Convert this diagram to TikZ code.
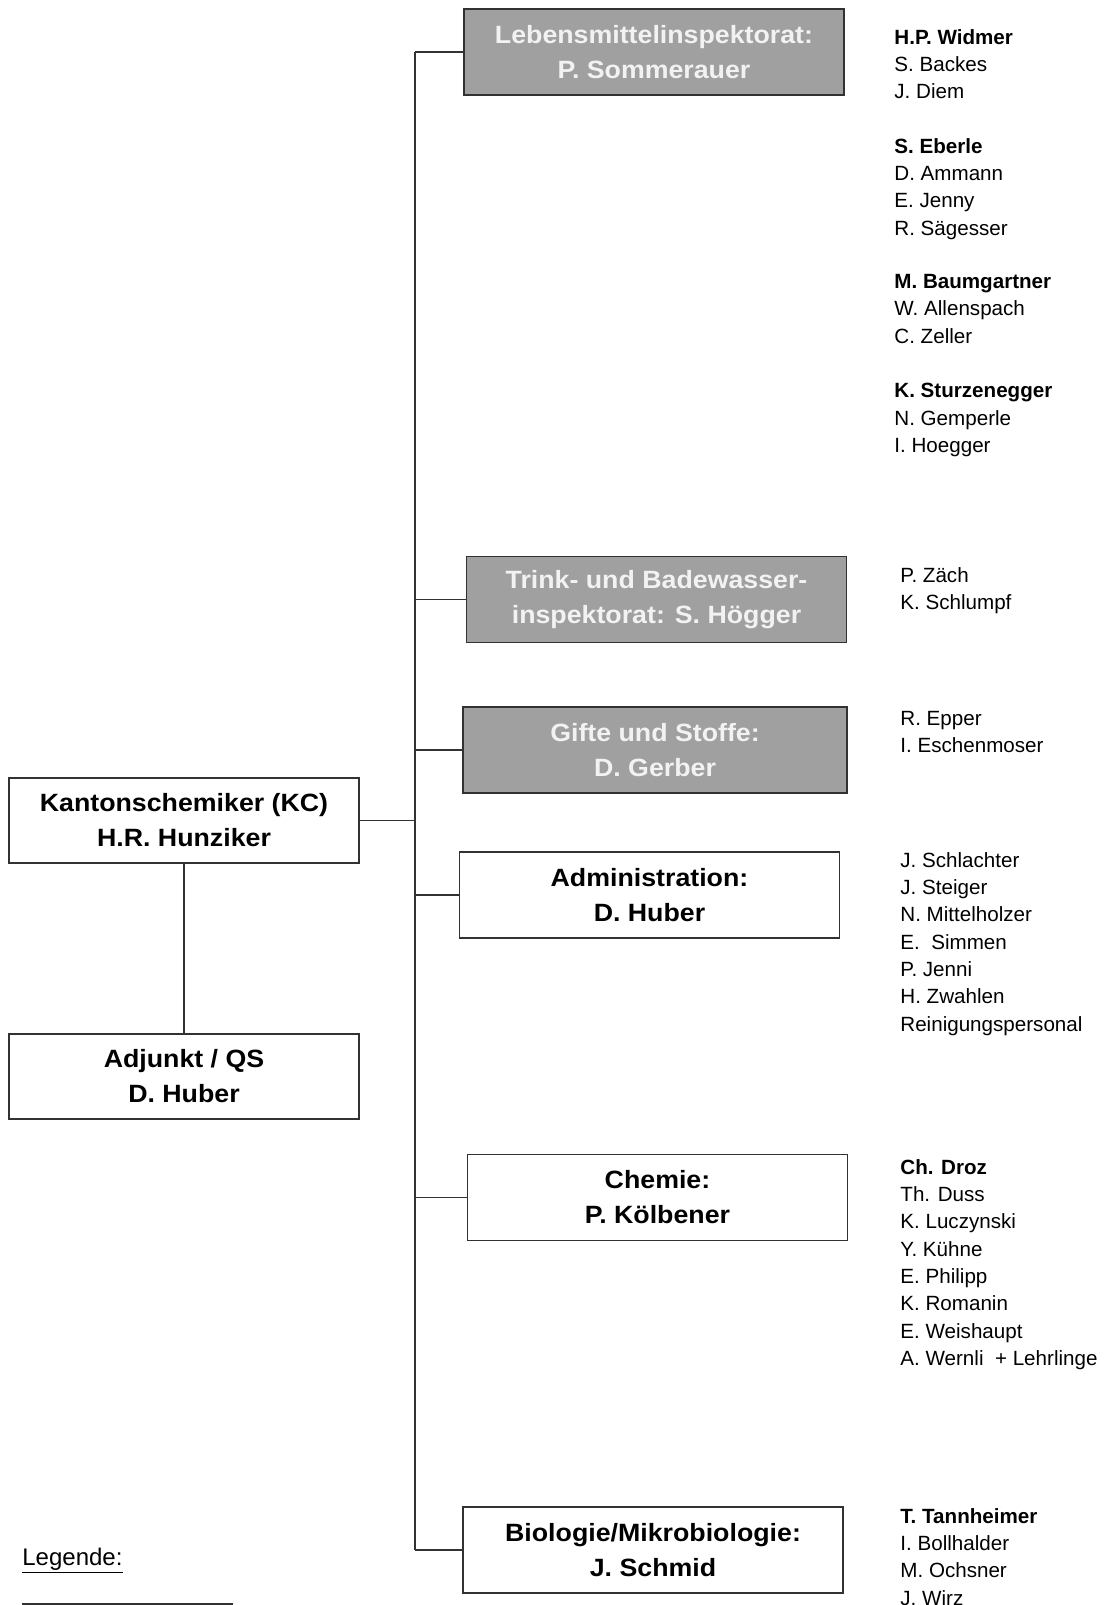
\documentclass[tikz,border=0pt]{standalone}
\usepackage{fontspec}
\setmainfont{Liberation Sans}
\newfontfamily\boxfont[FakeStretch=1.07]{Liberation Sans}
\usepackage{tikz}
\usetikzlibrary{positioning,calc}
\usepackage{xcolor}
\definecolor{unitgray}{RGB}{160,160,160}
\definecolor{linegray}{RGB}{50,50,50}

\begin{document}
\begin{tikzpicture}[
    x=0.5pt, y=-0.5pt,
    every node/.style={inner sep=0pt},
    headBox/.style={rectangle, draw=linegray, line width=0.6pt, fill=white, minimum width=175pt, minimum height=42.5pt, align=center, font=\boxfont\bfseries\fontsize{12.5}{17.5}\selectfont},
    unitWhite/.style={headBox, minimum width=190pt, minimum height=43pt},
    unitGray/.style={unitWhite, fill=unitgray, text=white!95!black},
    staffList/.style={anchor=north west, align=left, font=\fontsize{10.3}{13.65}\selectfont},
    orgLine/.style={draw=linegray, line width=0.6pt}
]
    \useasboundingbox (0,0) rectangle (1112,1605);

    % leitung
    \node [headBox] (kc) at (184, 820.5) {Kantonschemiker (KC)\\H.R. Hunziker};
    \node [headBox] (adj) at (184, 1076.5) {Adjunkt / QS\\D. Huber};

    % abteilungen
    \node [unitGray] (lmi) at (654, 52) {Lebensmittelinspektorat:\\P. Sommerauer};
    \node [unitGray] (twi) at (656.5, 599.5) {Trink- und Badewasser-\\inspektorat: S. H\"ogger};
    \node [unitGray, minimum width=192pt] (gus) at (655, 750) {Gifte und Stoffe:\\D. Gerber};
    \node [unitWhite] (adm) at (649.5, 895) {Administration:\\D. Huber};
    \node [unitWhite] (chem) at (657.5, 1197.5) {Chemie:\\P. K\"olbener};
    \node [unitWhite] (bio) at (653, 1550) {Biologie/Mikrobiologie:\\J. Schmid};

    % mitarbeitende
    \node [staffList] (lmiA) at (894, 29) {\textbf{H.P. Widmer}\\S. Backes\\J. Diem};
    \node [staffList] (lmiB) at (894, 138) {\textbf{S. Eberle}\\D. Ammann\\E. Jenny\\R. S\"agesser};
    \node [staffList] (lmiC) at (894, 274) {\textbf{M. Baumgartner}\\W. Allenspach\\C. Zeller};
    \node [staffList] (lmiD) at (894, 383) {\textbf{K. Sturzenegger}\\N. Gemperle\\I. Hoegger};
    \node [staffList] (twiStaff) at (900, 567) {P. Z\"ach\\K. Schlumpf};
    \node [staffList] (gusStaff) at (900, 711) {R. Epper\\I. Eschenmoser};
    \node [staffList] (admStaff) at (900, 852) {J. Schlachter\\J. Steiger\\N. Mittelholzer\\E.~ Simmen\\P. Jenni\\H. Zwahlen\\Reinigungspersonal};
    \node [staffList] (chemStaff) at (900, 1159) {\textbf{Ch. Droz}\\Th. Duss\\K. Luczynski\\Y. K\"uhne\\E. Philipp\\K. Romanin\\E. Weishaupt\\A. Wernli~ + Lehrlinge};
    \node [staffList] (bioStaff) at (900, 1508) {\textbf{T. Tannheimer}\\I. Bollhalder\\M. Ochsner\\J. Wirz};

    % legende
    \node [anchor=base west, font=\fontsize{12}{14}\selectfont] (legend) at (22, 1565) {\underline{Legende:}};
    \draw [orgLine] (22, 1604) -- (233, 1604);

    % verbindungen
    \coordinate (trunk) at (415, 0);
    \path [orgLine] (kc) -- (adj);
    \path [orgLine] (kc.east) -- (kc.east -| trunk);
    \path [orgLine] (lmi.west -| trunk) -- (bio.west -| trunk);
    \path [orgLine] (lmi.west) -- (lmi.west -| trunk);
    \path [orgLine] (twi.west) -- (twi.west -| trunk);
    \path [orgLine] (gus.west) -- (gus.west -| trunk);
    \path [orgLine] (adm.west) -- (adm.west -| trunk);
    \path [orgLine] (chem.west) -- (chem.west -| trunk);
    \path [orgLine] (bio.west) -- (bio.west -| trunk);
\end{tikzpicture}
\end{document}
